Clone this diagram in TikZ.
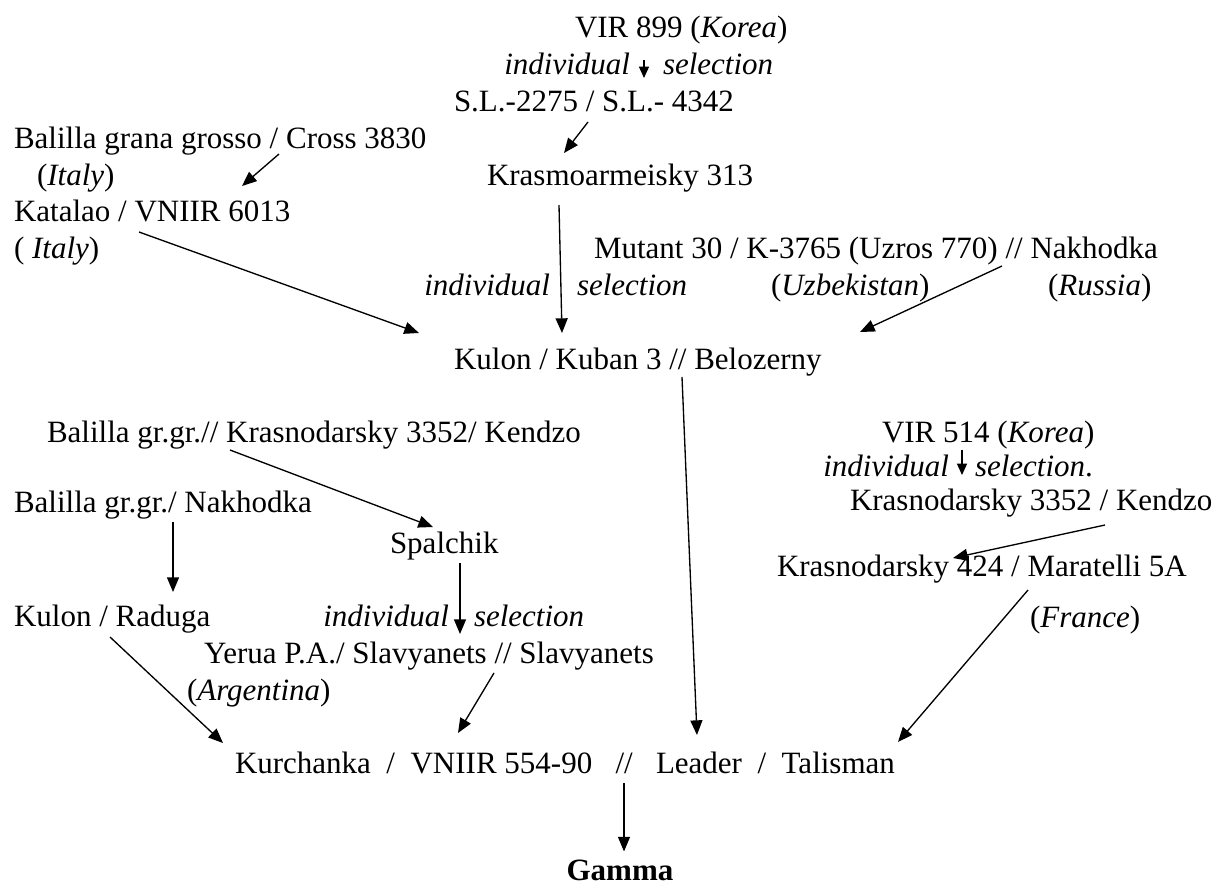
\documentclass[tikz,border=0pt]{standalone}
\usepackage{fontspec}
\setmainfont{Liberation Serif}
\usetikzlibrary{arrows.meta}
\begin{document}
\begin{tikzpicture}[x=0.75pt,y=-0.75pt,
  lbl/.style={inner sep=0pt,outer sep=0pt,font=\fontsize{23.25}{28}\selectfont,anchor=base west},
  arr/.style={line width=1pt,-{Triangle[length=11pt,width=9pt]}},
  sarr/.style={line width=1pt,-{Triangle[length=8.5pt,width=7.5pt]}}]
\useasboundingbox (0,0) rectangle (1221,886);
% top block
\node[lbl] (vir) at (575,37) {VIR 899 (\textit{Korea})};
\node[lbl,anchor=base east] (ind1) at (630,74) {\textit{individual}};
\node[lbl] (sel1) at (663,74) {\textit{selection}};
\node[lbl] (sl) at (454,111) {S.L.-2275 / S.L.- 4342};
\node[lbl] (bal1) at (14,148) {Balilla grana grosso / Cross 3830};
\node[lbl] (italy1) at (37,185) {(\textit{Italy})};
\node[lbl] (krasmo) at (487,185) {Krasmoarmeisky 313};
\node[lbl] (katalao) at (14,221) {Katalao / VNIIR 6013};
\node[lbl] (italy2) at (14,258) {( \textit{Italy})};
\node[lbl] (mutant) at (594,258) {Mutant 30 / K-3765 (Uzros 770) // Nakhodka};
\node[lbl,anchor=base east] (ind2) at (550,295) {\textit{individual}};
\node[lbl] (sel2) at (577,295) {\textit{selection}};
\node[lbl] (uzb) at (771,295) {(\textit{Uzbekistan})};
\node[lbl] (rus) at (1048,295) {(\textit{Russia})};
\node[lbl] (kuban) at (454,369) {Kulon / Kuban 3 // Belozerny};
% middle block
\node[lbl] (bal2) at (47,442) {Balilla gr.gr.// Krasnodarsky 3352/ Kendzo};
\node[lbl] (vir514) at (882,442) {VIR 514 (\textit{Korea})};
\node[lbl,anchor=base east] (ind3) at (949,476) {\textit{individual}};
\node[lbl] (sel3) at (975,476) {\textit{selection}.};
\node[lbl] (bal3) at (14,512) {Balilla gr.gr./ Nakhodka};
\node[lbl] (k3352) at (850,510) {Krasnodarsky 3352 / Kendzo};
\node[lbl] (spal) at (390,553) {Spalchik};
\node[lbl] (k424) at (777,576) {Krasnodarsky 424 / Maratelli 5A};
\node[lbl] (france) at (1030,627) {(\textit{France})};
\node[lbl] (raduga) at (14,626) {Kulon / Raduga};
\node[lbl,anchor=base east] (ind4) at (449,626) {\textit{individual}};
\node[lbl] (sel4) at (474,626) {\textit{selection}};
\node[lbl] (yerua) at (204,663) {Yerua P.A./ Slavyanets // Slavyanets};
\node[lbl] (arg) at (187,700) {(\textit{Argentina})};
\node[lbl] (kur) at (235,773) {Kurchanka\hspace{0.5em}/\hspace{0.5em}VNIIR 554-90\hspace{0.75em}//\hspace{0.75em}Leader\hspace{0.5em}/\hspace{0.5em}Talisman};
\node[lbl,anchor=base] (gamma) at (620,880) {\textbf{Gamma}};
% connectors
\draw[sarr] ([shift={(69,23)}]vir.base west) -- ([shift={(190,-33)}]sl.base west);
\draw[arr] ([shift={(134,11)}]sl.base west) -- ([shift={(77,-32)}]krasmo.base west);
\draw[arr] ([shift={(265,6)}]bal1.base west) -- ([shift={(228,-35)}]katalao.base west);
\draw[arr] ([shift={(125,11)}]katalao.base west) -- ([shift={(-35,-36)}]kuban.base west);
\draw[arr] ([shift={(72,20)}]krasmo.base west) -- ([shift={(108,-36)}]kuban.base west);
\draw[arr] ([shift={(408,8)}]mutant.base west) -- ([shift={(406,-37)}]kuban.base west);
\draw[arr] ([shift={(228,8)}]kuban.base west) -- ([shift={(462,-38)}]kur.base west);
\draw[arr] ([shift={(183,8)}]bal2.base west) -- ([shift={(43,-26)}]spal.base west);
\draw[arr] ([shift={(159,10)}]bal3.base west) -- ([shift={(159,-34)}]raduga.base west);
\draw[arr] ([shift={(70,10)}]spal.base west) -- ([shift={(256,-29)}]yerua.base west);
\draw[sarr] ([shift={(80,8)}]vir514.base west) -- ([shift={(112,-35)}]k3352.base west);
\draw[arr] ([shift={(255,15)}]k3352.base west) -- ([shift={(176,-18)}]k424.base west);
\draw[arr] ([shift={(251,14)}]k424.base west) -- ([shift={(663,-31)}]kur.base west);
\draw[arr] ([shift={(96,11)}]raduga.base west) -- ([shift={(-12,-30)}]kur.base west);
\draw[arr] ([shift={(290,10)}]yerua.base west) -- ([shift={(223,-40)}]kur.base west);
\draw[arr] ([shift={(389,10)}]kur.base west) -- ([shift={(4,-8)}]gamma.north);
\end{tikzpicture}
\end{document}
